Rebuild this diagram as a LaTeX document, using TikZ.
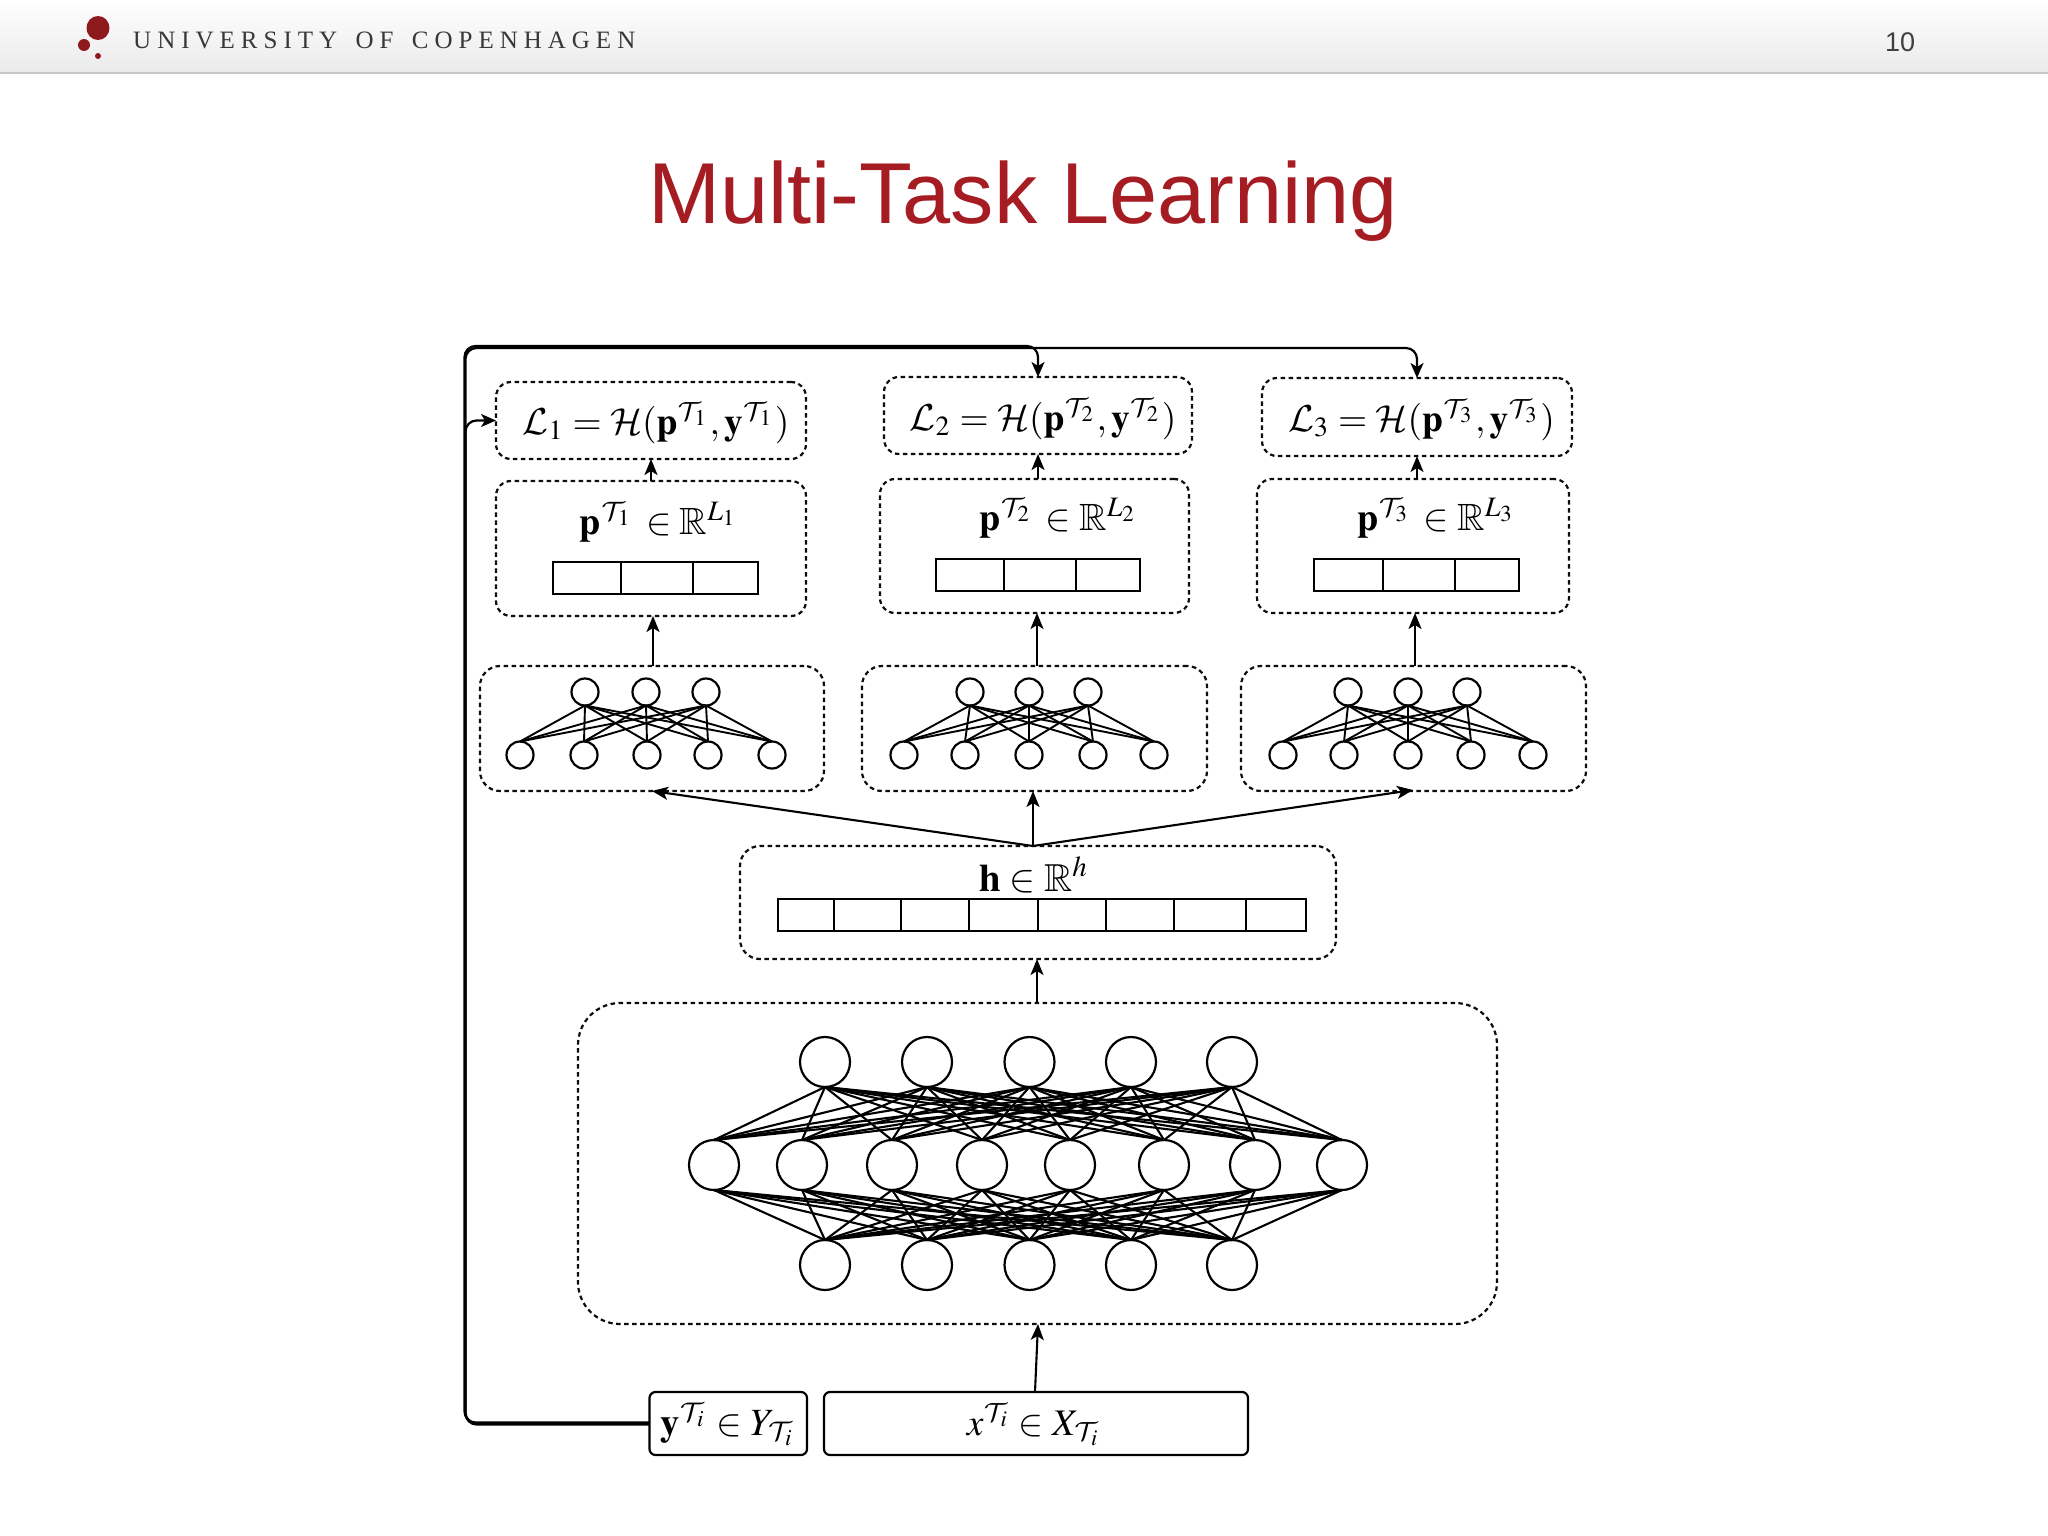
\documentclass[tikz,border=0pt]{standalone}
\usepackage{mathptmx}
\usepackage{amssymb}
\usepackage[no-math]{fontspec}
\usetikzlibrary{arrows.meta}
\newfontfamily\arialf{Liberation Sans}
\newfontfamily\hdrf[LetterSpace=24,WordSpace=1.5]{Liberation Serif}
\DeclareMathAlphabet{\mycal}{OMS}{cmsy}{m}{n}
\newcommand{\TT}[1]{\mycal{T}_{#1}}
\definecolor{kured}{HTML}{A51C22}
\definecolor{logored}{HTML}{8F1A1E}
\newcommand{\areabox}[6][dbox]{\node[#1,minimum width={#5-#3},minimum height={#6-#4}] (#2) at ({(#3+#5)/2},{(#4+#6)/2}) {};}
\begin{document}
\begin{tikzpicture}[x=1pt,y=-1pt,
  dbox/.style={draw=black!95,dash pattern=on 4.5pt off 3.5pt,line width=2.2pt,rounded corners=15pt,inner sep=0pt,outer sep=0pt},
  netbox/.style={dbox,rounded corners=20pt},
  mainbox/.style={dbox,rounded corners=42pt},
  solidbox/.style={draw=black,line width=2.2pt,rounded corners=6pt,inner sep=0pt,outer sep=0pt},
  vecbox/.style={draw=black,line width=2.2pt,inner sep=0pt,outer sep=0pt},
  smallneuron/.style={circle,draw=black,fill=white,line width=2.2pt,minimum size=27pt,inner sep=0pt,outer sep=0pt},
  bigneuron/.style={circle,draw=black,fill=white,line width=2.2pt,minimum size=50pt,inner sep=0pt,outer sep=0pt},
  smalledge/.style={line width=1.9pt,black},
  bigedge/.style={line width=2.1pt,black},
  arr/.style={line width=2.1pt,black,-{Stealth[length=16pt,width=13pt,inset=4pt]}},
  feedback/.style={line width=2.2pt,black,rounded corners=11pt,-{Stealth[length=15pt,width=13pt,inset=4pt]}},
  mathlabel/.style={anchor=base,inner sep=0pt,outer sep=0pt,scale=#1},
]
\useasboundingbox (0,0) rectangle (2048,1536);
\fill[white] (0,0) rectangle (2048,1536);
% header
\shade[top color=white,bottom color=black!8] (0,0) rectangle (2048,72);
\draw[black!22,line width=2.5pt] (0,73) -- (2048,73);
\fill[logored] (98,28) ellipse [x radius=11.5pt,y radius=12pt];
\fill[logored] (84,45) circle [radius=6pt];
\fill[logored] (98,56) circle [radius=3pt];
\node[anchor=base west,inner sep=0pt,text=black!78] (uni) at (133,49) {\fontsize{25}{25}\selectfont\hdrf UNIVERSITY OF COPENHAGEN};
\node[anchor=base,inner sep=0pt,text=black!75] (pnum) at (1900,52) {\fontsize{27}{27}\selectfont\arialf 10};
\node[anchor=base,inner sep=0pt,text=kured] (title) at (1023,223) {\fontsize{86.5}{87}\selectfont\arialf Multi-Task Learning};

% loss boxes
\areabox{L1}{496}{382}{806}{459}
\areabox{L2}{884}{377}{1192}{454}
\areabox{L3}{1262}{378}{1572}{456}
\node[mathlabel=3.75] at (656,434) {$\mycal{L}_1=\mycal{H}(\mathbf{p}^{\TT{1}},\mathbf{y}^{\TT{1}})$};
\node[mathlabel=3.75] at (1043,430) {$\mycal{L}_2=\mycal{H}(\mathbf{p}^{\TT{2}},\mathbf{y}^{\TT{2}})$};
\node[mathlabel=3.75] at (1421.5,431) {$\mycal{L}_3=\mycal{H}(\mathbf{p}^{\TT{3}},\mathbf{y}^{\TT{3}})$};

% prediction boxes
\areabox{P1}{496}{481}{806}{616}
\areabox{P2}{880}{479}{1189}{613}
\areabox{P3}{1257}{479}{1569}{613}
\node[mathlabel=3.8] at (659,534) {$\mathbf{p}^{\TT{1}}\,\in\mathbb{R}^{L_1}$};
\node[mathlabel=3.8] at (1058.5,530) {$\mathbf{p}^{\TT{2}}\,\in\mathbb{R}^{L_2}$};
\node[mathlabel=3.8] at (1436.5,530) {$\mathbf{p}^{\TT{3}}\,\in\mathbb{R}^{L_3}$};
\areabox[vecbox]{V1}{553}{562}{758}{594}
\areabox[vecbox]{V2}{936}{559}{1140}{591}
\areabox[vecbox]{V3}{1314}{559}{1519}{591}
\foreach \xx in {621,693} \draw[line width=2pt] (\xx,562) -- (\xx,594);
\foreach \xx in {1004,1076} \draw[line width=2pt] (\xx,559) -- (\xx,591);
\foreach \xx in {1383,1455} \draw[line width=2pt] (\xx,559) -- (\xx,591);

% task networks
\areabox[netbox]{N1}{480}{666}{824}{791}
\areabox[netbox]{N2}{862}{666}{1207}{791}
\areabox[netbox]{N3}{1241}{666}{1586}{791}
\foreach \net/\tops/\bots in {a/{585,646,706}/{520,584,647,708,772},b/{970,1029,1088}/{904,965,1029,1093,1154},c/{1348,1408,1467}/{1283,1344,1408,1471,1533}}{
  \foreach \xx [count=\i] in \tops \node[smallneuron] (\net t\i) at (\xx,692) {};
  \foreach \xx [count=\j] in \bots \node[smallneuron] (\net b\j) at (\xx,755) {};
  \foreach \i in {1,2,3} \foreach \j in {1,...,5} \draw[smalledge] (\net t\i.south) -- (\net b\j.north);
}

% shared representation
\areabox[netbox]{H}{740}{846}{1336}{959}
\node[mathlabel=3.9] at (1034,891) {$\mathbf{h}\in\mathbb{R}^{h}$};
\areabox[vecbox]{HV}{778}{899}{1306}{931}
\foreach \xx in {834,901,969,1038,1106,1174,1246} \draw[line width=2pt] (\xx,899) -- (\xx,931);

% shared network
\areabox[mainbox]{M}{578}{1003}{1497}{1324}
\foreach \xx [count=\i] in {825,927,1029.5,1131,1232} {
  \node[bigneuron] (mt\i) at (\xx,1062) {};
  \node[bigneuron] (mb\i) at (\xx,1265) {};
}
\foreach \xx [count=\j] in {714,802,892,982,1070,1164,1255,1342} \node[bigneuron] (mm\j) at (\xx,1165) {};
\foreach \i in {1,...,5} \foreach \j in {1,...,8} {
  \draw[bigedge] (mt\i.south) -- (mm\j.north);
  \draw[bigedge] (mm\j.south) -- (mb\i.north);
}

% inputs
\areabox[solidbox]{Y}{649.5}{1392}{807}{1455}
\areabox[solidbox]{X}{824}{1392}{1248}{1455}
\node[mathlabel=3.85] at (728,1435) {$\mathbf{y}^{\TT{i}}\in Y_{\TT{i}}$};
\node[mathlabel=3.75] at (1034,1435) {$x^{\TT{i}}\in X_{\TT{i}}$};

% arrows
\draw[arr] (P1.north) -- (L1.south);
\draw[arr] (L2.south |- P2.north) -- (L2.south);
\draw[arr] (L3.south |- P3.north) -- (L3.south);
\draw[arr] ([xshift=1pt]N1.north) -- ([xshift=1pt]N1.north |- P1.south);
\draw[arr] ([xshift=2.5pt]N2.north) -- ([xshift=2.5pt]N2.north |- P2.south);
\draw[arr] (N3.north -| 1415,0) -- (P3.south -| 1415,0);
\coordinate (fan) at (1033,846);
\draw[arr] (fan) -- (652,791);
\draw[arr] (fan) -- (1033,791);
\draw[arr] (fan) -- (1413,790);
\draw[arr] (M.north -| 1037,0) -- (H.south -| 1037,0);
\draw[arr] ([xshift=-1pt]X.north) -- (1038,1324);

% feedback
\draw[feedback] ([yshift=1pt]Y.west) -- (464.5,1422.5) -- (464.5,346) -- (1038,346) -- (L2.north);
\draw[feedback] (Y.west) -- (465.5,1423.5) -- (465.5,348) -- (1417,348) -- (L3.north);
\draw[feedback] ([yshift=-1pt]Y.west) -- (465.5,1424.5) -- (465.5,420.5) -- (L1.west);
\end{tikzpicture}
\end{document}
